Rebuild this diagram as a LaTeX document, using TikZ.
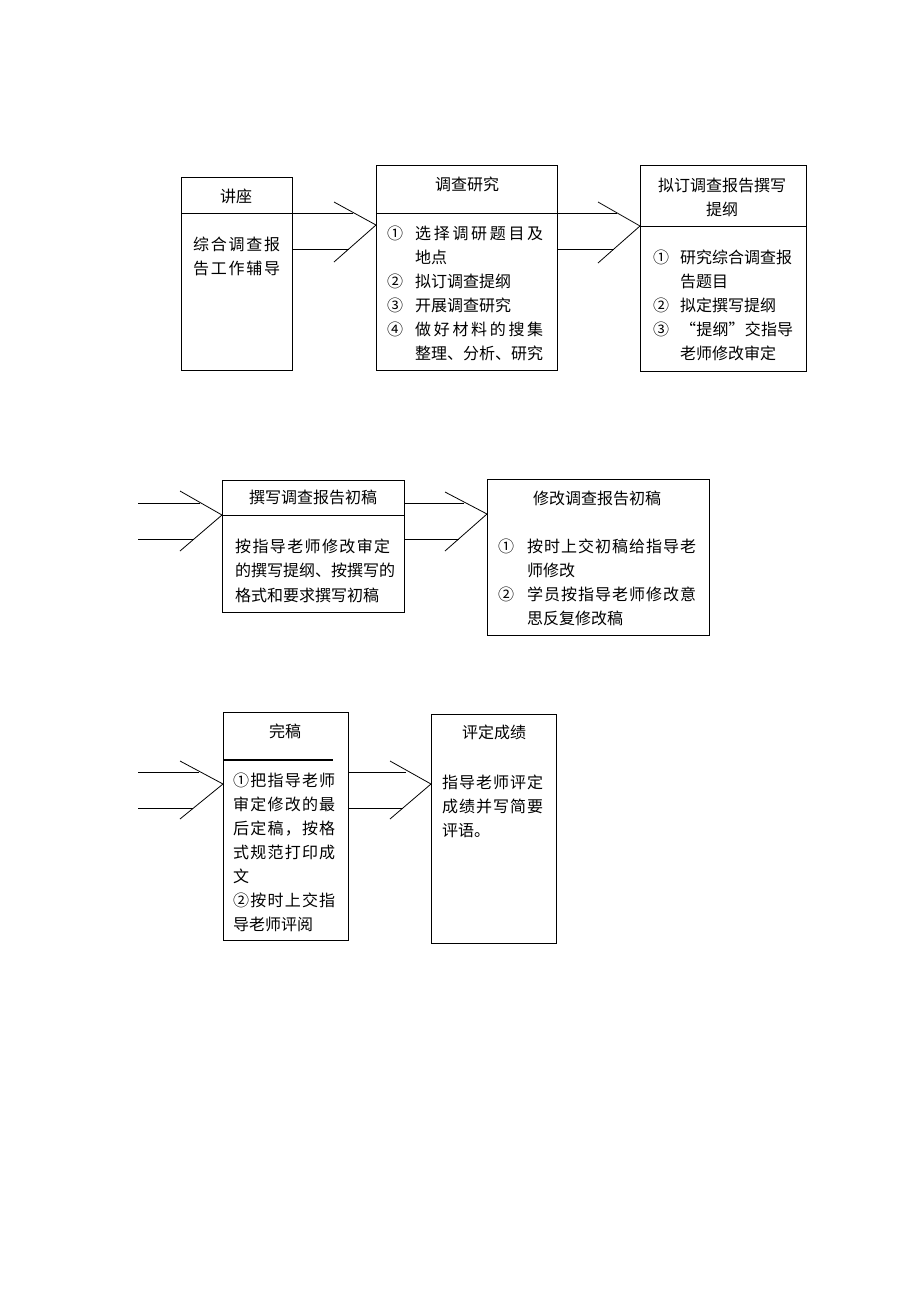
\documentclass[tikz,border=0pt]{standalone}
\usepackage{fontspec}
\setmainfont{Noto Sans CJK SC}
\usetikzlibrary{calc}
\newcommand\spr[1]{\sprA#1\relax}
\def\sprA#1#2{#1\ifx#2\relax\else\hfil\expandafter\sprA\expandafter#2\fi}
\newcommand\sline[2]{\makebox[#1pt][s]{\spr{#2}}}
\newcommand\cst{\rule[-4pt]{0pt}{19pt}}
\begin{document}
\begin{tikzpicture}[x=1pt,y=-1pt,
  box/.style={draw, line width=0.8pt, inner sep=0pt, anchor=north west},
  ln/.style={line width=0.8pt},
  tx/.style={inner sep=0pt, font=\fontsize{16}{24}\selectfont, align=left, anchor=north west},
  ttl/.style={inner sep=0pt, font=\fontsize{16}{24}\selectfont, align=center}]
\useasboundingbox[fill=white] (0,0) rectangle (920,1302);

% ---------- Row 1 ----------
\node[box, minimum width=111pt, minimum height=193pt] (b1) at (181,177) {};
\draw[ln] (181,213) -- (292,213);
\node[ttl] (t1) at (236,197) {\cst 讲座};
\node[tx] (c1) at (193,235) {\cst\sline{87}{综合调查报}\\ \cst\sline{87}{告工作辅导}};

\node[box, minimum width=181pt, minimum height=205pt] (b2) at (376,165) {};
\draw[ln] (376,213) -- (557,213);
\node[ttl] (t2) at (467,185) {\cst 调查研究};
\node[tx] (c2) at (387,224) {%
\cst\makebox[28pt][l]{①}\sline{128}{选择调研题目及}\\
\cst\hspace*{28pt}地点\\
\cst\makebox[28pt][l]{②}拟订调查提纲\\
\cst\makebox[28pt][l]{③}开展调查研究\\
\cst\makebox[28pt][l]{④}\sline{128}{做好材料的搜集}\\
\cst\hspace*{28pt}\sline{128}{整理、分析、研究}};

\node[box, minimum width=166pt, minimum height=206pt] (b3) at (640,165) {};
\draw[ln] (640,226) -- (806,226);
\node[ttl, anchor=north] (t3) at (722,176) {\cst 拟订调查报告撰写\\ \cst 提纲};
\node[tx] (c3) at (653,248) {%
\cst\makebox[27pt][l]{①}研究综合调查报\\
\cst\hspace*{27pt}告题目\\
\cst\makebox[27pt][l]{②}拟定撰写提纲\\
\cst\makebox[27pt][l]{③}\sline{113}{“提纲”交指导}\\
\cst\hspace*{27pt}老师修改审定};

% connectors row 1
\draw[ln] (b1.east |- 0,213) -- (353,213);
\draw[ln] (b1.east |- 0,249) -- (349,249);
\draw[ln] (334,202) -- (b2.west |- 0,225) -- (334,262);

\draw[ln] (b2.east |- 0,213) -- (617,213);
\draw[ln] (b2.east |- 0,249) -- (614,249);
\draw[ln] (598,202) -- (b3.west |- 0,226) -- (598,263);

% ---------- Row 2 ----------
\node[box, minimum width=182pt, minimum height=132pt] (b4) at (222,480) {};
\draw[ln] (222,515) -- (404,515);
\node[ttl] (t4) at (313,498) {\cst 撰写调查报告初稿};
\node[tx, font=\fontsize{16}{24.5}\selectfont] (c4) at (235,537) {%
\cst\sline{155}{按指导老师修改审定}\\
\cst\sline{155}{的撰写提纲、按撰写的}\\
\cst 格式和要求撰写初稿};

\node[box, minimum width=222pt, minimum height=156pt] (b5) at (487,479) {};
\node[ttl] (t5) at (597,499) {\cst 修改调查报告初稿};
\node[tx] (c5) at (498,537) {%
\cst\makebox[29pt][l]{①}\sline{169}{按时上交初稿给指导老}\\
\cst\hspace*{29pt}师修改\\
\cst\makebox[29pt][l]{②}\sline{169}{学员按指导老师修改意}\\
\cst\hspace*{29pt}思反复修改稿};

% connectors row 2
\coordinate (s4a) at (138,503);
\coordinate (s4b) at (138,539);
\draw[ln] (s4a) -- (200,503);
\draw[ln] (s4b) -- (194,539);
\draw[ln] (180,491) -- (b4.west |- 0,515) -- (180,551);

\draw[ln] (b4.east |- 0,503) -- (464,503);
\draw[ln] (b4.east |- 0,539) -- (459,539);
\draw[ln] (445,492) -- (b5.west |- 0,514) -- (445,551);

% ---------- Row 3 ----------
\node[box, minimum width=125pt, minimum height=228pt] (b6) at (223,712) {};
\draw[line width=1.3pt] (223,760) -- (333,760);
\node[ttl] (t6) at (285,732) {\cst 完稿};
\node[tx] (c6) at (233,771) {%
\cst\sline{102}{①把指导老师}\\
\cst\sline{102}{审定修改的最}\\
\cst\sline{102}{后定稿，按格}\\
\cst\sline{102}{式规范打印成}\\
\cst 文\\
\cst\sline{102}{②按时上交指}\\
\cst 导老师评阅};

\node[box, minimum width=125pt, minimum height=229pt] (b7) at (431,714) {};
\node[ttl] (t7) at (494,733) {\cst 评定成绩};
\node[tx] (c7) at (442,773) {%
\cst\sline{101}{指导老师评定}\\
\cst\sline{101}{成绩并写简要}\\
\cst 评语。};

% connectors row 3
\coordinate (s6a) at (138,772);
\coordinate (s6b) at (138,808);
\draw[ln] (s6a) -- (199,772);
\draw[ln] (s6b) -- (193,808);
\draw[ln] (180,761) -- (b6.west |- 0,784) -- (180,819);

\draw[ln] (b6.east |- 0,772) -- (406,772);
\draw[ln] (b6.east |- 0,808) -- (403,808);
\draw[ln] (390,761) -- (b7.west |- 0,784) -- (390,819);
\end{tikzpicture}
\end{document}
